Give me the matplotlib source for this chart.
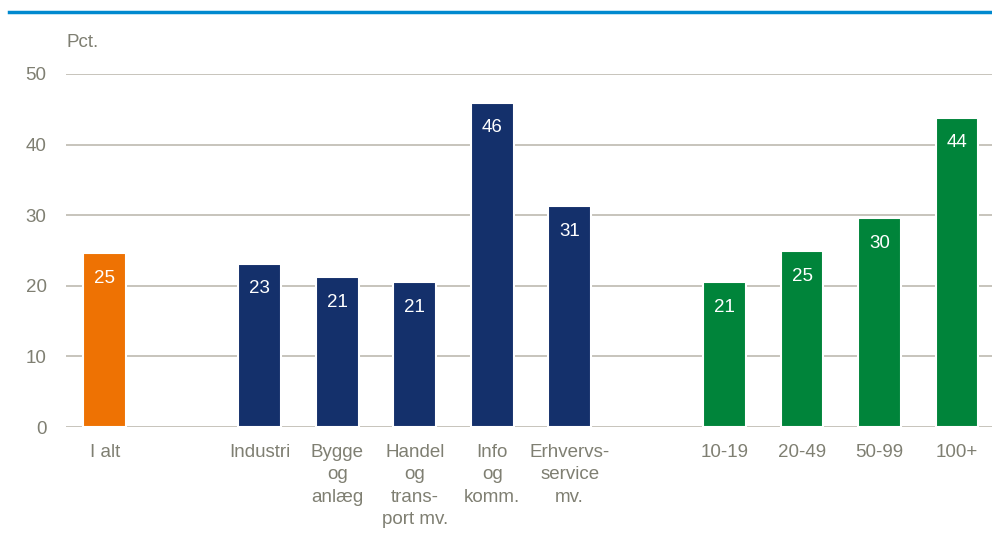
import matplotlib
matplotlib.use("Agg")
import matplotlib.pyplot as plt
from matplotlib.lines import Line2D

labels = ["I alt", "", "Industri", "Bygge\nog\nanlæg", "Handel\nog\ntrans-\nport mv.",
          "Info\nog\nkomm.", "Erhvervs-\nservice\nmv.", "", "10-19", "20-49", "50-99", "100+"]
values = [24.6, None, 23.1, 21.2, 20.5, 45.9, 31.3, None, 20.5, 24.9, 29.6, 43.8]
shown = ["25", "", "23", "21", "21", "46", "31", "", "21", "25", "30", "44"]
groups = ["total", None, "branche", "branche", "branche", "branche", "branche", None,
          "size", "size", "size", "size"]

colors = {"total": "#EE7203", "branche": "#14306B", "size": "#00843A"}
grey = "#7F7F72"

plt.rcParams["font.family"] = ["Liberation Sans Narrow", "Liberation Sans", "DejaVu Sans"]

fig = plt.figure(figsize=(9.92, 5.42), dpi=100)
ax = fig.add_axes([66 / 992, 1 - 427 / 542, 1 - 66 / 992, (427 - 74) / 542])

for i, (v, g) in enumerate(zip(values, groups)):
    if v is None:
        continue
    ax.bar(i, v, width=0.55, color=colors[g], edgecolor="white", linewidth=1.5, zorder=3)
    ax.annotate(shown[i], (i, v), xytext=(0, -25), textcoords="offset pixels",
                ha="center", va="center", color="white", fontsize=13.5, zorder=4)

ax.set_xlim(-0.5, 11.45)
ax.set_ylim(0, 50)
ax.set_yticks(range(0, 51, 10))
ax.set_xticks(range(len(labels)))
ax.set_xticklabels(labels, linespacing=1.42)
ax.tick_params(axis="x", length=0, pad=12, labelcolor=grey, labelsize=13.5)
ax.tick_params(axis="y", length=0, pad=14, labelcolor=grey, labelsize=13.5)
ax.grid(axis="y", color="#BDBAB0", linewidth=1.2, zorder=0)
for s in ax.spines.values():
    s.set_visible(False)

fig.text(67 / 992, 1 - 42 / 542, "Pct.", color=grey, fontsize=13.5, ha="left", va="center")
fig.add_artist(Line2D([9 / 992, 1], [1 - 12 / 542, 1 - 12 / 542], color="#0089CF",
                      linewidth=2.5, transform=fig.transFigure))

fig.savefig("out.png", dpi=100)
